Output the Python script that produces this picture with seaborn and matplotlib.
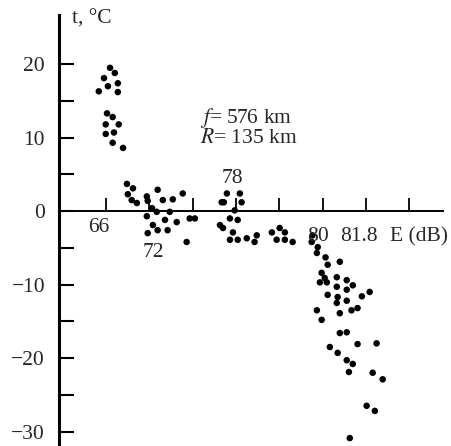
import numpy as np
import pandas as pd
import matplotlib
matplotlib.use('Agg')
import matplotlib.pyplot as plt
import seaborn as sns

# x given in tick-step units (tick k sits at k), y in deg C
x_66 = [1.09, 1.20, 0.95, 1.04, 1.27, 0.83, 1.27, 1.02, 1.15, 0.99, 1.29, 1.18, 0.99, 1.15, 1.39]
t_66 = [19.5, 18.8, 18.1, 17.0, 17.4, 16.3, 16.2, 13.3, 12.8, 11.8, 11.8, 10.7, 10.5, 9.3, 8.6]

x_72 = [1.48, 1.62, 1.50, 1.59, 1.71, 1.94, 1.96, 2.19, 2.31, 2.54, 2.77, 2.06, 1.94,
        2.17, 2.47, 2.63, 2.36, 2.08, 2.19, 2.42, 1.96, 2.86, 2.93, 3.05, 3.67, 3.63]
t_72 = [3.7, 3.1, 2.3, 1.5, 1.1, 2.0, 1.4, 2.9, 1.5, 1.6, 2.4, 0.4, -0.7,
        -0.1, -0.1, -1.5, -1.2, -1.9, -2.6, -2.6, -3.0, -4.2, -1.0, -1.0, 1.2, -1.9]

x_78 = [3.79, 3.72, 4.09, 4.13, 3.97, 3.86, 4.04, 3.70, 3.93, 3.86, 4.04, 4.25, 4.48,
        4.43, 4.83, 5.01, 5.13, 4.94, 5.13, 5.31, 5.77, 5.75]
t_78 = [2.4, 1.2, 2.4, 1.2, 0.1, -1.0, -1.2, -2.3, -2.9, -3.9, -3.9, -3.7, -3.3,
        -4.2, -2.9, -2.3, -2.9, -3.9, -3.9, -4.2, -3.3, -4.2]

x_80 = [5.89, 5.87, 6.07, 6.12, 6.40, 5.98, 6.05, 5.94, 6.10, 6.33, 6.33, 6.56, 6.70,
        6.56, 6.12, 6.35, 6.33, 6.56, 6.91, 7.09, 6.67, 6.81, 5.87, 6.40, 5.98, 6.40,
        6.56, 6.17, 6.35, 6.81, 7.25, 6.56, 6.70, 6.61, 7.16, 7.39, 7.02, 7.21, 6.63]
t_80 = [-4.9, -5.7, -6.3, -7.3, -6.9, -8.4, -9.1, -9.7, -9.7, -9.0, -10.3, -9.4, -10.1,
        -10.7, -11.4, -11.7, -12.5, -12.2, -11.6, -11.0, -13.5, -13.2, -13.5, -13.9, -14.8, -16.6,
        -16.5, -18.5, -19.3, -18.1, -18.0, -20.3, -20.8, -21.9, -22.0, -22.9, -26.5, -27.2, -30.9]

tick_pos = [1, 2, 3, 4, 5, 6, 7, 8]
tick_text = ['66', '72', '78', '80', '81.8']
text_x = [0.83, 2.08, 3.93, 5.89, 6.84]
text_y = [-2.2, -5.6, 4.5, -3.5, -3.5]

df = pd.DataFrame({'E': x_66 + x_72 + x_78 + x_80, 't': t_66 + t_72 + t_78 + t_80})

sns.set_style('white')
plt.rcParams['font.family'] = ['Liberation Serif', 'DejaVu Serif']
plt.rcParams['mathtext.fontset'] = 'stix'
plt.rcParams['axes.unicode_minus'] = True
fs = 15.5

fig = plt.figure(figsize=(4.51, 4.46), dpi=100)
ax = fig.add_axes([0.1308, 0.0045, 0.851, 0.962])
sns.scatterplot(x='E', y='t', data=df, color='black', s=22, edgecolor='none', ax=ax)

ax.set_xlim(-0.09, 8.78)
ax.set_ylim(-31.7, 26.7)
ax.spines['top'].set_visible(False)
ax.spines['right'].set_visible(False)
ax.spines['bottom'].set_position(('data', 0))
ax.spines['left'].set_linewidth(2.2)
ax.spines['bottom'].set_linewidth(1.4)
ax.spines['left'].set_color('black')
ax.spines['bottom'].set_color('black')

ax.set_yticks([20, 10, 0, -10, -20, -30])
ax.set_yticks([15, 5, -5, -15, -25], minor=True)
ax.tick_params(axis='y', which='both', direction='in', length=11, width=1.5,
               color='black', labelsize=fs, pad=10, left=True)
ax.set_xticks(tick_pos)
ax.set_xticklabels([''] * len(tick_pos))
ax.tick_params(axis='x', which='major', direction='in', length=9.5, width=1.3,
               color='black', bottom=True)
for lx, ly, lt in zip(text_x, text_y, tick_text):
    ax.text(lx, ly, lt, ha='center', va='center', fontsize=fs)
ax.text(7.55, -3.5, 'E (dB)', ha='left', va='center', fontsize=fs)
ax.text(0.21, 26.2, 't, °C', ha='left', va='center', fontsize=fs)
ax.text(3.16, 12.65, '$f$= 576 km', ha='left', va='center', fontsize=fs)
ax.text(3.16, 9.9, '$R$= 135 km', ha='left', va='center', fontsize=fs)
ax.set_xlabel('')
ax.set_ylabel('')

plt.savefig('out.png', dpi=100)
